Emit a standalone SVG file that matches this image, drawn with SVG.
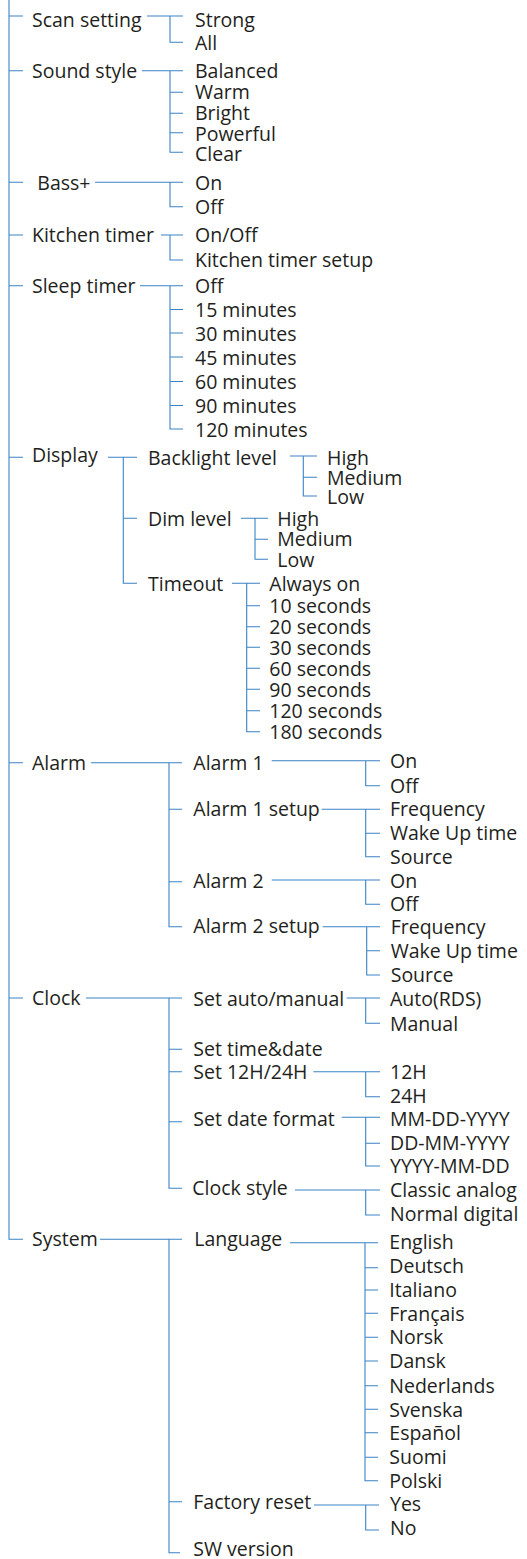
<svg xmlns="http://www.w3.org/2000/svg" width="527" height="1559" viewBox="0 0 527 1559">
<style>
.t{font-family:"Open Sans","Noto Sans","Liberation Sans",sans-serif;font-size:19.5px;fill:#231f20}
.c{fill:none;stroke:#3b84c5;stroke-width:1.1}
</style>
<rect width="527" height="1559" fill="#ffffff"/>
<g id="connectors" class="c">
<path d="M9,0V1239.3H23M9,16H23M9,70.7H23M9,182.3H23M9,235H23M9,285.7H23M9,457.3H23M9,762.7H23M9,998H23"/>
<path d="M147,16H183M170,16V42.3H183"/>
<path d="M142,70.7H183M170,70.7V152.3H183M170,92.3H183M170,113.3H183M170,132.7H183"/>
<path d="M95,182.3H183M170,182.3V206.7H183"/>
<path d="M161,235H183M170,235V260H183"/>
<path d="M140,285.7H183M170,285.7V429H183M170,309.5H183M170,333H183M170,357H183M170,381.5H183M170,405.5H183"/>
<path d="M108,457.3H137M123.3,457.3V583.3H137M123.3,518.3H137"/>
<path d="M290,456H317M303.3,456V496H317M303.3,477.3H317"/>
<path d="M241,518.3H268M255,518.3V559.3H268M255,539.3H268"/>
<path d="M232,583.3H260M246.7,583.3V731.7H260M246.7,605.7H260M246.7,626.7H260M246.7,647.3H260M246.7,668.3H260M246.7,689.3H260M246.7,710.7H260"/>
<path d="M91,762.7H182M169,762.7V926.7H182M169,809.3H182M169,881.7H182"/>
<path d="M271.7,760.7H380M365.7,760.7V785.7H380"/>
<path d="M321.7,809.3H380M365.7,809.3V856.7H380M365.7,833.3H380"/>
<path d="M271.7,880H380M365.7,880V904.3H380"/>
<path d="M322.7,926.7H380M366.7,926.7V975H380M366.7,950.7H380"/>
<path d="M86,998H182M169,998V1188.3H182M169,1049.3H182M169,1071.7H182M169,1121.7H182"/>
<path d="M346.7,998H380M365.7,998V1023.3H380"/>
<path d="M313.3,1071.7H380M365.7,1071.7V1096.7H380"/>
<path d="M341.7,1117.3H380M365.7,1117.3V1166H380M365.7,1143.3H380"/>
<path d="M295,1190H380M365.7,1190V1215H380"/>
<path d="M100,1239.3H182M169,1239.3V1552.7H180M169,1501.7H182"/>
<path d="M290,1242.7H378M365,1242.7V1480.7H378M365,1267.7H378M365,1290H378M365,1313.3H378M365,1337.3H378M365,1361H378M365,1385.7H378M365,1409.3H378M365,1432.7H378M365,1457.3H378"/>
<path d="M314,1505H379M365.7,1505V1530H379"/>
</g>
<g id="scan-setting"><text class="t" x="32" y="26.5">Scan setting</text></g>
<g id="scan-strong"><text class="t" x="195" y="26.5">Strong</text></g>
<g id="scan-all"><text class="t" x="195" y="49.5">All</text></g>
<g id="sound-style"><text class="t" x="32" y="77.5">Sound style</text></g>
<g id="sound-balanced"><text class="t" x="195" y="77.5">Balanced</text></g>
<g id="sound-warm"><text class="t" x="195" y="98.5">Warm</text></g>
<g id="sound-bright"><text class="t" x="195" y="120">Bright</text></g>
<g id="sound-powerful"><text class="t" x="195" y="141">Powerful</text></g>
<g id="sound-clear"><text class="t" x="195" y="161">Clear</text></g>
<g id="bass"><text class="t" x="37.3" y="189.5">Bass+</text></g>
<g id="bass-on"><text class="t" x="195" y="189.5">On</text></g>
<g id="bass-off"><text class="t" x="195" y="213.5">Off</text></g>
<g id="kitchen-timer"><text class="t" x="32" y="242">Kitchen timer</text></g>
<g id="kitchen-onoff"><text class="t" x="195" y="242">On/Off</text></g>
<g id="kitchen-setup"><text class="t" x="195" y="267">Kitchen timer setup</text></g>
<g id="sleep-timer"><text class="t" x="32" y="292.5">Sleep timer</text></g>
<g id="sleep-off"><text class="t" x="195" y="292.5">Off</text></g>
<g id="sleep-15"><text class="t" x="195" y="317">15 minutes</text></g>
<g id="sleep-30"><text class="t" x="195" y="341">30 minutes</text></g>
<g id="sleep-45"><text class="t" x="195" y="365">45 minutes</text></g>
<g id="sleep-60"><text class="t" x="195" y="389">60 minutes</text></g>
<g id="sleep-90"><text class="t" x="195" y="413">90 minutes</text></g>
<g id="sleep-120"><text class="t" x="195" y="437">120 minutes</text></g>
<g id="display"><text class="t" x="32" y="462">Display</text></g>
<g id="backlight-level"><text class="t" x="148" y="465">Backlight level</text></g>
<g id="backlight-high"><text class="t" x="327" y="464.5">High</text></g>
<g id="backlight-medium"><text class="t" x="327" y="485">Medium</text></g>
<g id="backlight-low"><text class="t" x="327" y="504">Low</text></g>
<g id="dim-level"><text class="t" x="148" y="525.5">Dim level</text></g>
<g id="dim-high"><text class="t" x="277.3" y="525.5">High</text></g>
<g id="dim-medium"><text class="t" x="277.3" y="546">Medium</text></g>
<g id="dim-low"><text class="t" x="277.3" y="566.5">Low</text></g>
<g id="timeout"><text class="t" x="148" y="590.5">Timeout</text></g>
<g id="timeout-always"><text class="t" x="269.3" y="590.5">Always on</text></g>
<g id="timeout-10"><text class="t" x="269.3" y="612.5">10 seconds</text></g>
<g id="timeout-20"><text class="t" x="269.3" y="633.5">20 seconds</text></g>
<g id="timeout-30"><text class="t" x="269.3" y="654.5">30 seconds</text></g>
<g id="timeout-60"><text class="t" x="269.3" y="675.5">60 seconds</text></g>
<g id="timeout-90"><text class="t" x="269.3" y="696.5">90 seconds</text></g>
<g id="timeout-120"><text class="t" x="269.3" y="717.5">120 seconds</text></g>
<g id="timeout-180"><text class="t" x="269.3" y="738.5">180 seconds</text></g>
<g id="alarm"><text class="t" x="32" y="769.5">Alarm</text></g>
<g id="alarm1"><text class="t" x="193.3" y="769.5">Alarm 1</text></g>
<g id="alarm1-on"><text class="t" x="390" y="768.3">On</text></g>
<g id="alarm1-off"><text class="t" x="390" y="792.5">Off</text></g>
<g id="alarm1-setup"><text class="t" x="193.3" y="816">Alarm 1 setup</text></g>
<g id="alarm1-frequency"><text class="t" x="390" y="816">Frequency</text></g>
<g id="alarm1-wakeup"><text class="t" x="390" y="840">Wake Up time</text></g>
<g id="alarm1-source"><text class="t" x="390" y="864">Source</text></g>
<g id="alarm2"><text class="t" x="193.3" y="887.5">Alarm 2</text></g>
<g id="alarm2-on"><text class="t" x="390" y="887.5">On</text></g>
<g id="alarm2-off"><text class="t" x="390" y="911">Off</text></g>
<g id="alarm2-setup"><text class="t" x="193.3" y="933">Alarm 2 setup</text></g>
<g id="alarm2-frequency"><text class="t" x="390.7" y="934">Frequency</text></g>
<g id="alarm2-wakeup"><text class="t" x="390.7" y="958">Wake Up time</text></g>
<g id="alarm2-source"><text class="t" x="390.7" y="982">Source</text></g>
<g id="clock"><text class="t" x="32" y="1005">Clock</text></g>
<g id="set-auto-manual"><text class="t" x="193.3" y="1006">Set auto/manual</text></g>
<g id="auto-rds"><text class="t" x="390" y="1006">Auto(RDS)</text></g>
<g id="manual"><text class="t" x="390" y="1030.5">Manual</text></g>
<g id="set-time-date"><text class="t" x="193.3" y="1055.5">Set time&amp;date</text></g>
<g id="set-12-24"><text class="t" x="193.3" y="1079">Set 12H/24H</text></g>
<g id="h12"><text class="t" x="390" y="1079">12H</text></g>
<g id="h24"><text class="t" x="390" y="1102.7">24H</text></g>
<g id="set-date-format"><text class="t" x="193.3" y="1126">Set date format</text></g>
<g id="mm-dd-yyyy"><text class="t" x="390" y="1126">MM-DD-YYYY</text></g>
<g id="dd-mm-yyyy"><text class="t" x="390" y="1150">DD-MM-YYYY</text></g>
<g id="yyyy-mm-dd"><text class="t" x="390" y="1173.3">YYYY-MM-DD</text></g>
<g id="clock-style"><text class="t" x="192.3" y="1195">Clock style</text></g>
<g id="classic-analog"><text class="t" x="390" y="1196.5">Classic analog</text></g>
<g id="normal-digital"><text class="t" x="390" y="1220.5">Normal digital</text></g>
<g id="system"><text class="t" x="32" y="1246">System</text></g>
<g id="language"><text class="t" x="194.3" y="1246">Language</text></g>
<g id="lang-english"><text class="t" x="389.3" y="1249">English</text></g>
<g id="lang-deutsch"><text class="t" x="389.3" y="1273">Deutsch</text></g>
<g id="lang-italiano"><text class="t" x="389.3" y="1297.3">Italiano</text></g>
<g id="lang-francais"><text class="t" x="389.3" y="1321">Français</text></g>
<g id="lang-norsk"><text class="t" x="389.3" y="1344">Norsk</text></g>
<g id="lang-dansk"><text class="t" x="389.3" y="1368.3">Dansk</text></g>
<g id="lang-nederlands"><text class="t" x="389.3" y="1392.5">Nederlands</text></g>
<g id="lang-svenska"><text class="t" x="389.3" y="1416.5">Svenska</text></g>
<g id="lang-espanol"><text class="t" x="389.3" y="1440">Español</text></g>
<g id="lang-suomi"><text class="t" x="389.3" y="1464.3">Suomi</text></g>
<g id="lang-polski"><text class="t" x="389.3" y="1488">Polski</text></g>
<g id="factory-reset"><text class="t" x="193.3" y="1509.3">Factory reset</text></g>
<g id="reset-yes"><text class="t" x="390" y="1510.7">Yes</text></g>
<g id="reset-no"><text class="t" x="390" y="1535">No</text></g>
<g id="sw-version"><text class="t" x="193.3" y="1556">SW version</text></g>
</svg>
